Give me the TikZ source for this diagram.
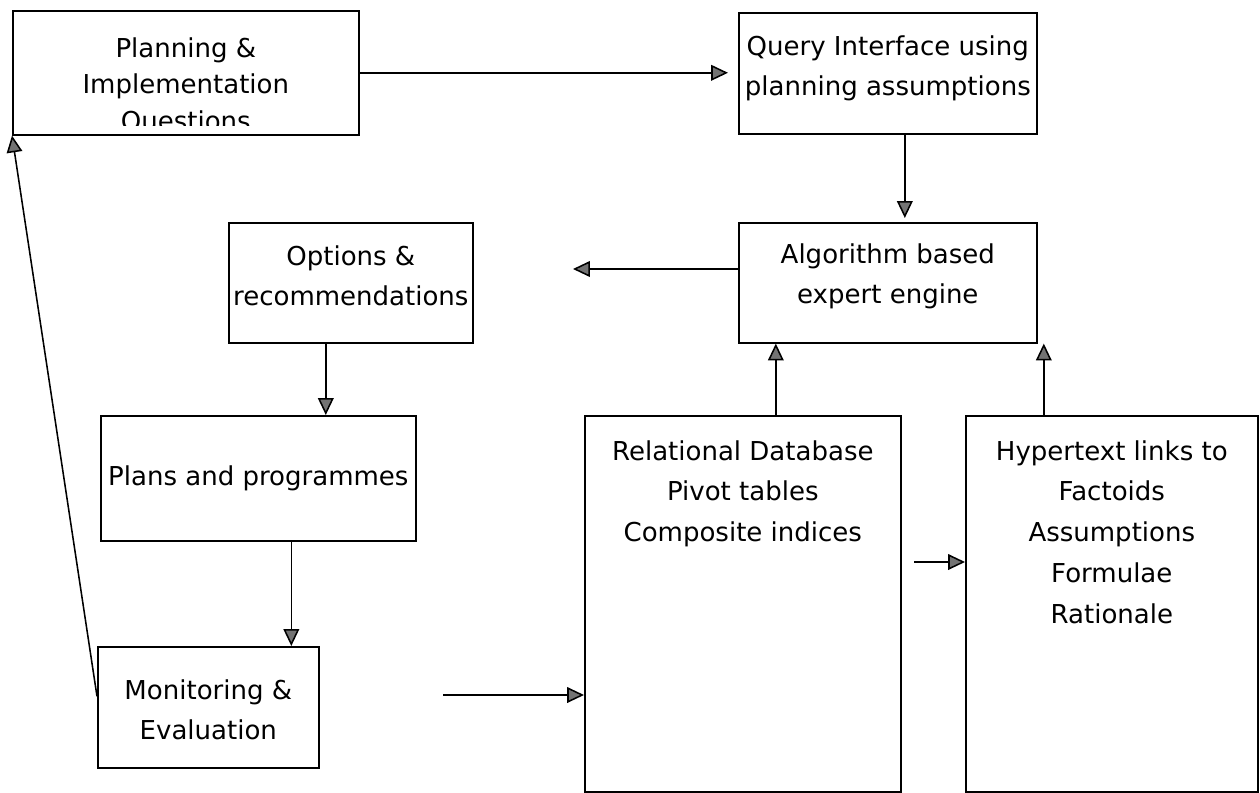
\documentclass[tikz,border=0pt]{standalone}
\usepackage{fontspec}
\usepackage{tikz}
\usetikzlibrary{arrows.meta}
\newfontfamily\boxfont{DejaVu Sans}

\tikzset{
  box/.style={draw, line width=1.1pt, inner sep=0pt, anchor=north west},
  txt/.style={inner sep=0pt, anchor=north, align=center, font={\boxfont\fontsize{18.5}{29}\selectfont}},
  arr/.style={line width=1.1pt, -{Triangle[length=4.2mm, width=3.9mm, fill=black!55]}}
}

\begin{document}
\begin{tikzpicture}[x=0.025cm, y=-0.025cm]

\begin{scope}

\useasboundingbox (0,0) rectangle (1260,793);

% boxes
\node[box, minimum width=8.65cm, minimum height=3.1cm] (plan) at (12,10) {};
\node[box, minimum width=7.45cm, minimum height=3.025cm] (query) at (738,12) {};
\node[box, minimum width=7.45cm, minimum height=3.0cm] (algo) at (738,222) {};
\node[box, minimum width=6.1cm, minimum height=3.0cm] (opts) at (228,222) {};
\node[box, minimum width=7.875cm, minimum height=3.125cm] (plans) at (100,415) {};
\node[box, minimum width=5.525cm, minimum height=3.025cm] (mon) at (97,646) {};
\node[box, minimum width=7.9cm, minimum height=9.4cm] (db) at (584,415) {};
\node[box, minimum width=7.3cm, minimum height=9.4cm] (hyper) at (965,415) {};

% texts
\begin{scope}
\clip ([yshift=2.4mm]plan.south west) rectangle (plan.north east);
\node[txt, font={\boxfont\fontsize{18.5}{26}\selectfont}] (plantext) at ([yshift=-6.75mm]plan.north) {Planning \&\\Implementation\\Questions};
\end{scope}
\node[txt] (querytext) at ([yshift=-5.75mm]query.north) {Query Interface using\\planning assumptions};
\node[txt] (algotext) at ([yshift=-5.25mm]algo.north) {Algorithm based\\expert engine};
\node[txt] (optstext) at ([yshift=-5.75mm]opts.north) {Options \&\\recommendations};
\node[txt] (planstext) at ([yshift=-12.5mm]plans.north) {Plans and programmes};
\node[txt] (montext) at ([yshift=-8.25mm]mon.north) {Monitoring \&\\Evaluation};
\node[txt] (dbtext) at ([yshift=-6.25mm]db.north) {Relational Database\\Pivot tables\\Composite indices};
\node[txt] (hypertext) at ([yshift=-6.25mm]hyper.north) {Hypertext links to\\Factoids\\Assumptions\\Formulae\\Rationale};

% free ends
\coordinate (optend) at (573,269);
\coordinate (dbstart) at (443,695);
\coordinate (linkstart) at (914,562);

% arrows
\draw[arr, shorten >=2.5mm] (plan.east) -- (plan.east -| query.west);
\draw[arr, shorten >=1mm] ([xshift=4.25mm]query.south) -- ([xshift=4.25mm]query.south |- algo.north);
\draw[arr] (optend -| algo.west) -- (optend);
\draw[arr] ([xshift=-6.25mm]opts.south) -- ([xshift=-6.25mm]opts.south |- plans.north);
\draw[arr] ([xshift=8.25mm]plans.south) -- ([xshift=8.25mm]plans.south |- mon.north);
\draw[arr] ([yshift=2.75mm]mon.west) -- (plan.south west);
\draw[arr] (dbstart) -- (dbstart -| db.west);
\draw[arr] ([xshift=8.25mm]db.north) -- ([xshift=8.25mm]db.north |- algo.south);
\draw[arr] ([xshift=-17mm]hyper.north) -- ([xshift=-17mm]hyper.north |- algo.south);
\draw[arr] (linkstart) -- (linkstart -| hyper.west);

\end{scope}

\end{tikzpicture}
\end{document}
